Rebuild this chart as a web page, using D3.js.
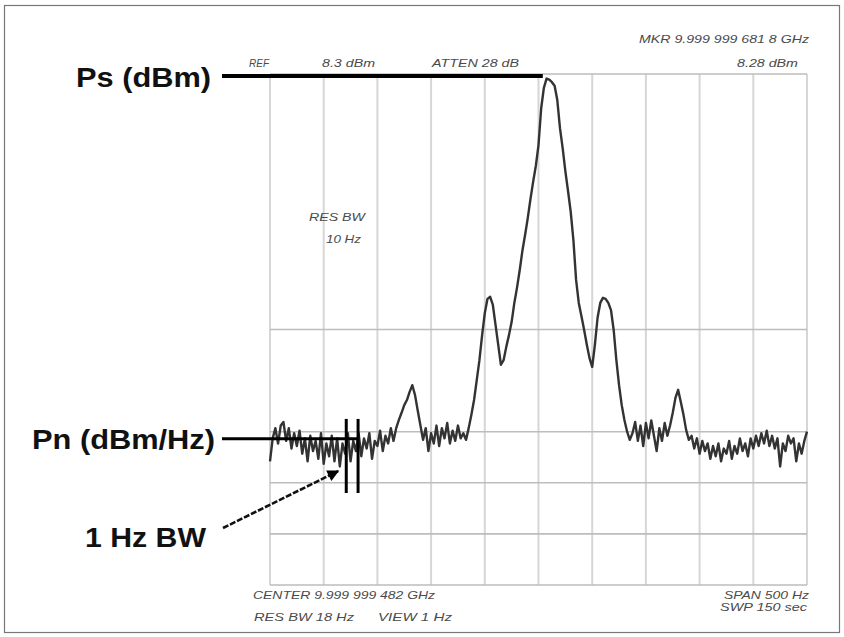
<!DOCTYPE html>
<html>
<head>
<meta charset="utf-8">
<script src="https://cdn.jsdelivr.net/npm/d3@7"></script>
<style>
html,body{margin:0;padding:0;background:#fff;}
svg{display:block;}
</style>
</head>
<body>
<div id="chart"></div>
<script>
// ---------------- data ----------------
const spanHz = [-250, 250];              // offset from center frequency (Hz)
const levelRange = [-91.7, 8.3];         // dBm, 10 dB/div, ref 8.3 dBm
const freqGridHz = [-250, -200, -150, -100, -50, 0, 50, 100, 150, 200, 250];
const levelGridDbm = [8.3, -41.7, -61.7, -71.7, -81.7, -91.7];

// sweep trace, 201 equally spaced points across the span (dBm)
const traceNoiseLeft = [-67.5,-63,-61,-64,-60.5,-59.8,-63.5,-61,-65,-62,
  -64.5,-61.5,-66,-63,-67.5,-62.5,-65.5,-63.5,-67,-62,
  -68,-64,-66.5,-62.5,-67.5,-63,-68.5,-64,-66,-62,
  -67.5,-63.5,-65.5,-62,-66.5,-63,-65,-62,-67,-63.5,
  -64.5,-61.5,-65.5,-62.5,-64,-61,-63.5,-61];
const traceSpurLeft = [-59.4,-58,-56.5,-55.5,-53.9,-52.6,-54.5,-57.5,-60.4,-63.3];
const traceNoiseMid = [-61,-65.5,-62,-64,-60.5,-64.5,-61,-63,-60,-64,-61.5,-63.5,-60.5,-63,-62];
const traceCarrier = [-63.3,-61.0,-58.4,-55.5,-51.6,-47.7,-42.8,-38.5,-35.7,-35.3,
  -36.9,-40.8,-44.7,-48.6,-47.7,-45.1,-42.8,-40.2,-36.5,-33.5,
  -30.1,-26.3,-23.2,-19.9,-16.2,-12.8,-9.7,-5.6,1.6,5.6,
  7.4,7.2,6.7,6.0,3.2,-2.3,-6.2,-10.7,-14.6,-18.7,
  -24.2,-32.0,-36.5,-39.1,-41.8,-44.7,-47.3,-49.0,-44.7,-39.4,
  -36.5,-35.5,-35.7,-36.5,-37.9,-41.8,-47.7,-52.6,-56.5,-59.4,
  -61.7,-63.3];
const traceNoiseRight1 = [-62,-59.8,-63.5,-60.5,-64.5,-60,-63,-59.5,-62.5,-65.5,-61,-63.5,-60,-62.5,-60.5];
const traceSpurRight = [-58,-55.1,-53.5,-55.9,-58.4,-61.4,-63.3];
const traceNoiseRight2 = [-62.5,-65,-63,-66,-63.5,-65.5,-64,-67,-64.5,-66.5,
  -64,-67.5,-65,-66,-63.5,-67,-64.5,-66,-63,-65.5,
  -64,-66.5,-63,-65,-62.5,-64.5,-62,-64,-61.5,-64.5,
  -62.5,-65,-63,-68.5,-64,-65.5,-62.5,-64,-63,-67.5,
  -64,-66,-63.5,-61.7];
const traceLevels = [].concat(traceNoiseLeft, traceSpurLeft, traceNoiseMid, traceCarrier,
  traceNoiseRight1, traceSpurRight, traceNoiseRight2);

// annotations
const psLevel = 7.9;          // carrier power marker level (dBm)
const psEndHz = 4;            // where the Ps line meets the carrier
const pnLevel = -63.1;        // noise density level
const bwBarsHz = [-179, -168];// 1 Hz bandwidth markers
const bwBarLevels = [-59.2, -73.7];
const arrowTip = {hz: -186.5, dbm: -69.4};

const topTexts = [
  {t: "MKR 9.999 999 681 8 GHz", x: 809, y: 43, anchor: "end", len: 170},
  {t: "REF", x: 249, y: 67, anchor: "start", len: 20},
  {t: "8.3 dBm", x: 322, y: 67, anchor: "start", len: 53},
  {t: "ATTEN 28 dB", x: 432, y: 67, anchor: "start", len: 87},
  {t: "8.28 dBm", x: 798, y: 67, anchor: "end", len: 61},
  {t: "RES BW", x: 309, y: 221, anchor: "start", len: 56},
  {t: "10 Hz", x: 326, y: 243, anchor: "start", len: 35},
  {t: "CENTER 9.999 999 482 GHz", x: 253, y: 599, anchor: "start", len: 182},
  {t: "RES BW 18  Hz", x: 254, y: 621, anchor: "start", len: 100},
  {t: "VIEW 1   Hz", x: 378, y: 621, anchor: "start", len: 74},
  {t: "SPAN 500 Hz", x: 809, y: 599, anchor: "end", len: 85},
  {t: "SWP 150 sec", x: 807, y: 611, anchor: "end", len: 87}
];
const bigLabels = [
  {t: "Ps (dBm)", x: 76, y: 87, len: 135},
  {t: "Pn (dBm/Hz)", x: 32, y: 449, len: 183},
  {t: "1 Hz BW", x: 85, y: 547, len: 121}
];

// ---------------- drawing ----------------
const W = 844, H = 637;
const svg = d3.select("#chart").append("svg").attr("width", W).attr("height", H);
svg.append("rect").attr("x", 0).attr("y", 0).attr("width", W).attr("height", H).attr("fill", "#fff");
svg.append("rect").attr("x", 4.5).attr("y", 5.5).attr("width", 835).attr("height", 627)
  .attr("fill", "none").attr("stroke", "#777").attr("stroke-width", 1.2);

const x = d3.scaleLinear().domain(spanHz).range([270, 807]);
const y = d3.scaleLinear().domain(levelRange).range([585, 74]);

// grid
const g = svg.append("g");
g.selectAll("line.v").data(freqGridHz).enter().append("line")
  .attr("x1", d => x(d)).attr("x2", d => x(d))
  .attr("y1", y(levelRange[1])).attr("y2", y(levelRange[0]))
  .attr("stroke", "#d6d6d6").attr("stroke-width", 2);
g.selectAll("line.h").data(levelGridDbm).enter().append("line")
  .attr("x1", x(spanHz[0])).attr("x2", x(spanHz[1]))
  .attr("y1", d => y(d)).attr("y2", d => y(d))
  .attr("stroke", "#bdbdbd").attr("stroke-width", 1.6);

// instrument texts
svg.selectAll("text.inst").data(topTexts).enter().append("text")
  .attr("x", d => d.x).attr("y", d => d.y)
  .attr("text-anchor", d => d.anchor)
  .attr("textLength", d => d.len).attr("lengthAdjust", "spacingAndGlyphs")
  .attr("font-family", "Liberation Sans, Arial, sans-serif")
  .attr("font-style", "italic").attr("font-size", 11)
  .attr("fill", "#4a4a4a")
  .text(d => d.t);

// trace
const step = (spanHz[1] - spanHz[0]) / (traceLevels.length - 1);
const line = d3.line().x((d, i) => x(spanHz[0] + i * step)).y(d => y(d));
svg.append("path").datum(traceLevels).attr("d", line)
  .attr("fill", "none").attr("stroke", "#333").attr("stroke-width", 2.4)
  .attr("stroke-linejoin", "round");

// annotation lines
const labelLineStart = 222;
svg.append("line").attr("x1", labelLineStart).attr("x2", x(psEndHz))
  .attr("y1", y(psLevel)).attr("y2", y(psLevel))
  .attr("stroke", "#000").attr("stroke-width", 4);
svg.append("line").attr("x1", labelLineStart).attr("x2", x(bwBarsHz[1]))
  .attr("y1", y(pnLevel)).attr("y2", y(pnLevel))
  .attr("stroke", "#000").attr("stroke-width", 3);
svg.selectAll("line.bw").data(bwBarsHz).enter().append("line")
  .attr("x1", d => x(d)).attr("x2", d => x(d))
  .attr("y1", y(bwBarLevels[0])).attr("y2", y(bwBarLevels[1]))
  .attr("stroke", "#000").attr("stroke-width", 3);

// arrow
const defs = svg.append("defs");
defs.append("marker").attr("id", "ah").attr("viewBox", "0 0 10 10")
  .attr("refX", 9).attr("refY", 5).attr("markerWidth", 5).attr("markerHeight", 4.5)
  .attr("orient", "auto").attr("markerUnits", "strokeWidth")
  .append("path").attr("d", "M0,0 L10,5 L0,10 z").attr("fill", "#000");
svg.append("line").attr("x1", 223).attr("y1", 528)
  .attr("x2", x(arrowTip.hz)).attr("y2", y(arrowTip.dbm))
  .attr("stroke", "#111").attr("stroke-width", 2.6)
  .attr("stroke-dasharray", "6,1.8")
  .attr("marker-end", "url(#ah)");

// big labels
svg.selectAll("text.big").data(bigLabels).enter().append("text")
  .attr("x", d => d.x).attr("y", d => d.y)
  .attr("textLength", d => d.len).attr("lengthAdjust", "spacingAndGlyphs")
  .attr("font-family", "Liberation Sans, Arial, sans-serif")
  .attr("font-weight", "bold").attr("font-size", 28)
  .attr("fill", "#111")
  .text(d => d.t);
</script>
</body>
</html>
